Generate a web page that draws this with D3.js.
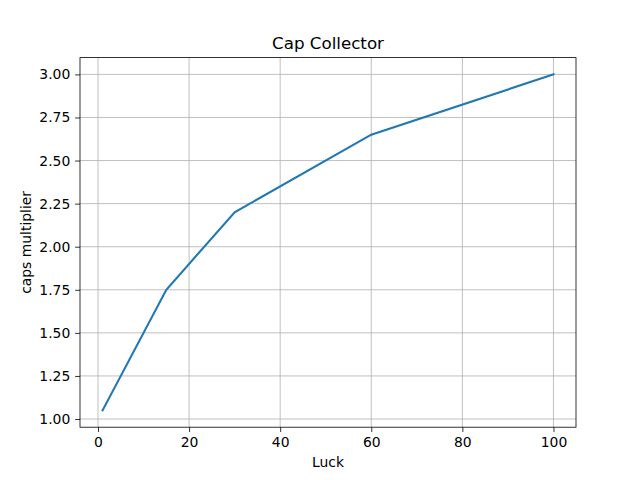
<!DOCTYPE html>
<html lang="en">
<head>
<meta charset="UTF-8">
<title>Cap Collector</title>
<script src="https://d3js.org/d3.v7.min.js"></script>
<style>
    body { margin: 0; background: white; }
    text { font-family: "DejaVu Sans", sans-serif; fill: black; }
    .grid line { stroke: #b0b0b0; stroke-width: 0.8px; }
</style>
</head>
<body>
<svg width="640" height="480"></svg>
<script>
const luck = [1, 15, 30, 60, 100];
const multiplier = [1.05, 1.75, 2.2, 2.65, 3.0];
const xTicks = [0, 20, 40, 60, 80, 100];
const yTicks = [1.00, 1.25, 1.50, 1.75, 2.00, 2.25, 2.50, 2.75, 3.00];

const plotLeft = 80, plotRight = 576, plotTop = 57.6, plotBottom = 427.2;
const svg = d3.select('svg');

const xPad = (d3.max(luck) - d3.min(luck)) * 0.05;
const yPad = (d3.max(multiplier) - d3.min(multiplier)) * 0.05;
const x = d3.scaleLinear()
    .domain([d3.min(luck) - xPad, d3.max(luck) + xPad])
    .range([plotLeft, plotRight]);
const y = d3.scaleLinear()
    .domain([d3.min(multiplier) - yPad, d3.max(multiplier) + yPad])
    .range([plotBottom, plotTop]);

// grid
const grid = svg.append('g').attr('class', 'grid');
grid.selectAll('line.v').data(xTicks).enter().append('line')
    .attr('x1', d => x(d)).attr('x2', d => x(d))
    .attr('y1', plotTop).attr('y2', plotBottom);
grid.selectAll('line.h').data(yTicks).enter().append('line')
    .attr('x1', plotLeft).attr('x2', plotRight)
    .attr('y1', d => y(d)).attr('y2', d => y(d));

// line
const pts = luck.map((d, i) => [d, multiplier[i]]);
svg.append('path')
    .datum(pts)
    .attr('fill', 'none')
    .attr('stroke', '#1f77b4')
    .attr('stroke-width', 2.08)
    .attr('stroke-linecap', 'square')
    .attr('d', d3.line().x(d => x(d[0])).y(d => y(d[1])));

// axes
const xAxis = svg.append('g')
    .attr('transform', `translate(0, ${plotBottom})`)
    .call(d3.axisBottom(x).tickValues(xTicks).tickSize(4.86).tickPadding(4.86).tickSizeOuter(0));
const yAxis = svg.append('g')
    .attr('transform', `translate(${plotLeft}, 0)`)
    .call(d3.axisLeft(y).tickValues(yTicks).tickFormat(d3.format('.2f')).tickSize(4.86).tickPadding(4.86).tickSizeOuter(0));
[xAxis, yAxis].forEach(a => {
    a.select('.domain').remove();
    a.selectAll('line').attr('stroke', 'black').attr('stroke-width', 0.8);
    a.selectAll('text').attr('font-family', 'DejaVu Sans').attr('font-size', '13.9px');
});

// frame
svg.append('rect')
    .attr('x', plotLeft).attr('y', plotTop)
    .attr('width', plotRight - plotLeft).attr('height', plotBottom - plotTop)
    .attr('fill', 'none').attr('stroke', 'black').attr('stroke-width', 0.8);

// labels
svg.append('text')
    .attr('x', (plotLeft + plotRight) / 2).attr('y', 467)
    .attr('text-anchor', 'middle').style('font-size', '13.9px')
    .text('Luck');
svg.append('text')
    .attr('transform', `translate(31, ${(plotTop + plotBottom) / 2}) rotate(-90)`)
    .attr('text-anchor', 'middle').style('font-size', '13.9px')
    .text('caps multiplier');
svg.append('text')
    .attr('x', (plotLeft + plotRight) / 2).attr('y', 49)
    .attr('text-anchor', 'middle').style('font-size', '16.7px')
    .text('Cap Collector');
</script>
</body>
</html>
